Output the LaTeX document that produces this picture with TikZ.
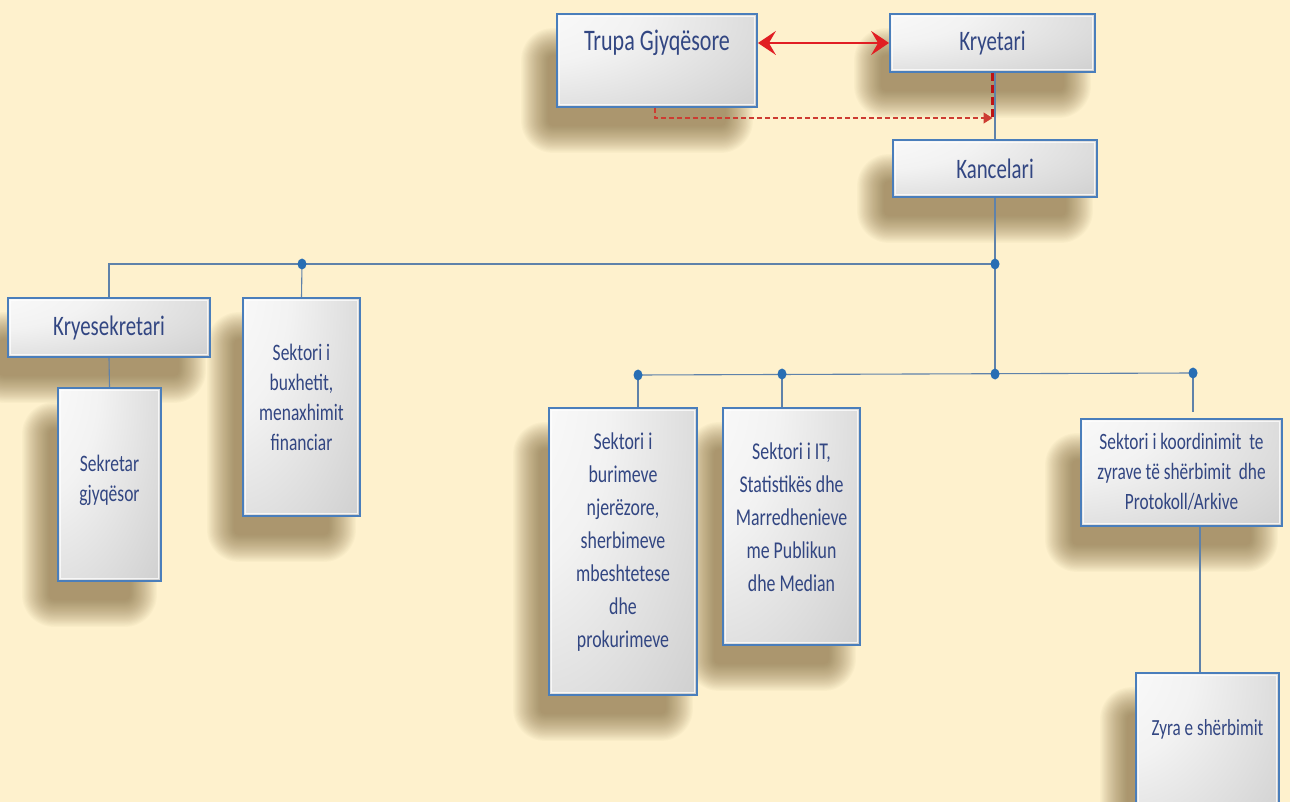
\documentclass[tikz,border=0pt]{standalone}
\usepackage{fontspec}
\setmainfont{Carlito}[FakeStretch=0.74]
\usetikzlibrary{arrows.meta,calc}

\definecolor{bg}{RGB}{254,241,205}
\definecolor{bord}{RGB}{74,126,187}
\definecolor{txtc}{RGB}{50,70,130}
\definecolor{conn}{RGB}{95,130,170}
\definecolor{dotc}{RGB}{40,110,180}
\definecolor{redarr}{RGB}{225,30,35}
\definecolor{reddash}{RGB}{205,60,50}
\definecolor{reddark}{RGB}{190,20,20}
\definecolor{shadowc}{RGB}{115,88,45}

\pgfdeclareradialshading{boxshade}{\pgfpoint{-45bp}{35bp}}{color(0bp)=(white); color(30bp)=(black!5); color(70bp)=(black!21); color(100bp)=(black!38); color(130bp)=(black!48)}

\pgfdeclarelayer{bgfill}
\pgfdeclarelayer{background}
\pgfsetlayers{bgfill,background,main}

\newcommand\boxdecor[1]{%
  \begin{pgfonlayer}{background}
    \foreach \k in {0,...,23}{%
      \pgfmathsetmacro\e{15-1.15*\k}%
      \pgfmathsetmacro\rr{\e+17}%
      \fill[shadowc, opacity=0.03, rounded corners=\rr pt] ($(#1.north west)+(-20-\e,30-\e)$) rectangle ($(#1.south east)+(-20+\e,30+\e)$);
    }
  \end{pgfonlayer}
  \draw[white, opacity=0.75, line width=1.3pt] ($(#1.north west)+(3.5,3.5)$) rectangle ($(#1.south east)+(-3.5,-3.5)$);
}

\begin{document}
\begin{tikzpicture}[x=1pt,y=-1pt,
  box/.style={draw=bord, line width=1.8pt, shading=boxshade, rectangle, inner sep=0pt},
  lab/.style={text=txtc, align=center, inner sep=0pt},
  big/.style={lab, font=\fontsize{28.2}{30}\selectfont},
  mid/.style={lab, font=\fontsize{24.1}{33}\selectfont},
  midb/.style={lab, font=\fontsize{23.6}{30}\selectfont},
  small/.style={lab, font=\fontsize{23.4}{30}\selectfont},
  conline/.style={draw=conn, line width=1.1pt},
  dotm/.style={fill=dotc}
]
\begin{pgfonlayer}{bgfill}
\fill[bg] (0,0) rectangle (1290,802);
\end{pgfonlayer}
\useasboundingbox (0,0) rectangle (1290,802);

% boxes
\node[box, minimum width=200pt, minimum height=93pt] (trupa) at (657,60.5) {};
\boxdecor{trupa}
\node[lab, font=\fontsize{29.8}{30}\selectfont] (trupa-t) at (657,43) {Trupa Gjyqësore};
\node[box, minimum width=205pt, minimum height=58pt] (kryetari) at (992.5,43) {};
\boxdecor{kryetari}
\node[big] (kryetari-t) at (kryetari.center) {Kryetari};
\node[box, minimum width=204pt, minimum height=57pt] (kancelari) at (995,168.5) {};
\boxdecor{kancelari}
\node[big] (kancelari-t) at (kancelari.center) {Kancelari};
\node[box, minimum width=202pt, minimum height=59pt] (kryesek) at (109,327.5) {};
\boxdecor{kryesek}
\node[big] (kryesek-t) at (kryesek.center) {Kryesekretari};
\node[box, minimum width=103pt, minimum height=193pt] (sekretar) at (109.5,484.5) {};
\boxdecor{sekretar}
\node[midb] (sekretar-t) at (109.5,480) {Sekretar\\gjyqësor};
\node[box, minimum width=117pt, minimum height=218pt] (buxhet) at (301.5,407) {};
\boxdecor{buxhet}
\node[midb] (buxhet-t) at (301.5,397) {Sektori i\\buxhetit,\\menaxhimit\\financiar};
\node[box, minimum width=148pt, minimum height=287pt] (burime) at (623,551.5) {};
\boxdecor{burime}
\node[mid] (burime-t) at (623,542) {Sektori i\\burimeve\\njerëzore,\\sherbimeve\\mbeshtetese\\dhe\\prokurimeve};
\node[box, minimum width=137pt, minimum height=237pt] (it) at (791.5,526.5) {};
\boxdecor{it}
\node[mid] (it-t) at (791.5,517) {Sektori i IT,\\Statistikës dhe\\Marredhenieve\\me Publikun\\dhe Median};
\node[box, minimum width=201pt, minimum height=107pt] (koord) at (1181.5,472.5) {};
\boxdecor{koord}
\node[small] (koord-t) at (1181.5,472) {Sektori i koordinimit\ \ te\\zyrave të shërbimit\ \ dhe\\Protokoll/Arkive};
\node[box, minimum width=143pt, minimum height=160pt] (zyra) at (1207.5,753) {};
\boxdecor{zyra}
\node[lab, font=\fontsize{23.1}{26}\selectfont] (zyra-t) at (1207.5,729) {Zyra e shërbimit};

% connector coordinates
\coordinate (b1) at (995,264);
\coordinate (b1l) at (302,264);
\coordinate (b2) at (995,374);
\coordinate (b2a) at (638,375);
\coordinate (b2b) at (782,374);
\coordinate (b2d) at (1193,373);
\coordinate (kz) at (1200,0);
\coordinate (dj) at (992.5,118);

% red double arrow
\draw[redarr, line width=1.6pt, {Stealth[length=18pt,width=24pt,inset=7pt]}-{Stealth[length=18pt,width=24pt,inset=7pt]}]
  (kryetari.west -| trupa.east) -- (kryetari.west);
% Kryetari - Kancelari
\draw[conline] (kancelari.north) -- (kancelari.north |- kryetari.south);
% dashed
\draw[reddark, line width=3pt, dash pattern=on 8pt off 4pt] (kryetari.south) -- (dj);
\draw[reddash, line width=1.3pt, dash pattern=on 5pt off 3pt, -{Triangle[length=9pt,width=11pt]}]
  ($(trupa.south)+(-2,0)$) |- (dj);

% tree from Kancelari
\draw[conline] (kancelari.south) -- (b2);
\draw[conline] (b1) -- (kryesek.north |- b1) -- (kryesek.north);
\draw[conline] (b1l) -- (buxhet.north);
\draw[conline] (kryesek.south) -- (sekretar.north);
\draw[conline] (b2a) -- (b2d);
\draw[conline] (b2a) -- (b2a |- burime.north);
\draw[conline] (b2b) -- (b2b |- it.north);
\draw[conline] (b2d) -- ($(b2d |- koord.north)+(0,-6)$);
\draw[conline] (koord.south -| kz) -- (zyra.north -| kz);

% dots
\foreach \p in {b1,b1l,b2,b2a,b2b,b2d} \fill[dotm] (\p) ellipse (4.5pt and 5.5pt);
\end{tikzpicture}
\end{document}
